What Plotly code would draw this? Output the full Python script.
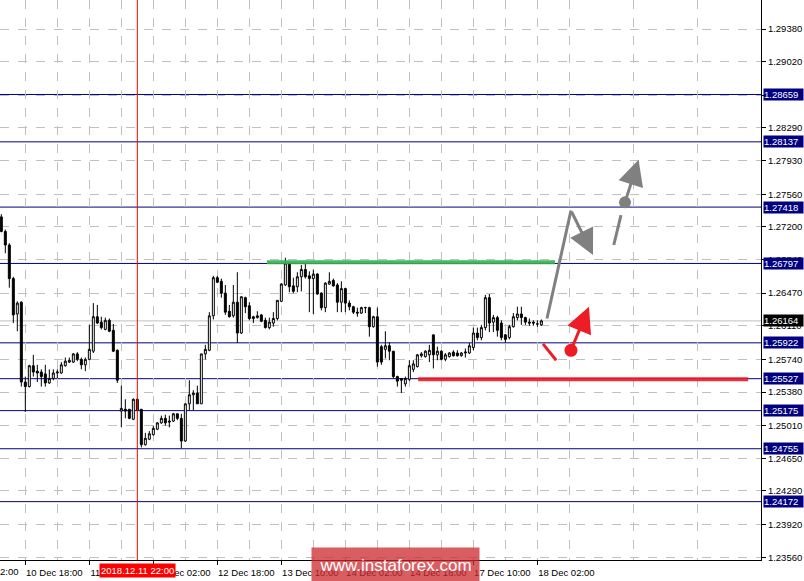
import plotly.graph_objects as go

# H1 candles, index 0 = 10 Dec 12:00
opens = [1.2731, 1.2715, 1.2700, 1.2663, 1.2624, 1.2637, 1.2549, 1.2544, 1.2567, 1.2561,
         1.2560, 1.2558, 1.2548, 1.2553, 1.2559, 1.2559, 1.2567, 1.2571, 1.2571, 1.2580,
         1.2574, 1.2568, 1.2574, 1.2583, 1.2621, 1.2615, 1.2607, 1.2617, 1.2606, 1.2584,
         1.2517, 1.2519, 1.2519, 1.2508, 1.2530, 1.2519, 1.2480, 1.2486, 1.2491, 1.2497,
         1.2504, 1.2509, 1.2506, 1.2506, 1.2514, 1.2509, 1.2484, 1.2525, 1.2535, 1.2537,
         1.2525, 1.2580, 1.2584, 1.2622, 1.2664, 1.2660, 1.2647, 1.2627, 1.2622, 1.2637,
         1.2603, 1.2642, 1.2633, 1.2619, 1.2620, 1.2623, 1.2617, 1.2609, 1.2614, 1.2619,
         1.2638, 1.2656, 1.2680, 1.2655, 1.2654, 1.2665, 1.2673, 1.2666, 1.2663, 1.2668,
         1.2647, 1.2631, 1.2657, 1.2661, 1.2656, 1.2637, 1.2652, 1.2636, 1.2632, 1.2626,
         1.2625, 1.2631, 1.2631, 1.2610, 1.2621, 1.2588, 1.2585, 1.2589, 1.2583, 1.2555,
         1.2553, 1.2547, 1.2552, 1.2563, 1.2566, 1.2578, 1.2577, 1.2579, 1.2601, 1.2579,
         1.2583, 1.2574, 1.2577, 1.2582, 1.2581, 1.2578, 1.2581, 1.2581, 1.2587, 1.2603,
         1.2598, 1.2609, 1.2642, 1.2615, 1.2620, 1.2614, 1.2601, 1.2598, 1.2610, 1.2620,
         1.2624, 1.2620, 1.2615, 1.2615, 1.2613, 1.2612]
highs = [1.2734, 1.2717, 1.2702, 1.2665, 1.2638, 1.2638, 1.2555, 1.2568, 1.2579, 1.2568,
         1.2563, 1.2568, 1.2563, 1.2563, 1.2563, 1.2571, 1.2576, 1.2576, 1.2581, 1.2582,
         1.2576, 1.2576, 1.2612, 1.2636, 1.2634, 1.2621, 1.2620, 1.2619, 1.2613, 1.2585,
         1.2545, 1.2530, 1.2519, 1.2531, 1.2531, 1.2519, 1.2493, 1.2495, 1.2501, 1.2505,
         1.2512, 1.2513, 1.2512, 1.2515, 1.2514, 1.2514, 1.2525, 1.2551, 1.2540, 1.2545,
         1.2580, 1.2590, 1.2626, 1.2666, 1.2666, 1.2663, 1.2656, 1.2634, 1.2656, 1.2670,
         1.2643, 1.2643, 1.2637, 1.2622, 1.2627, 1.2624, 1.2620, 1.2620, 1.2626, 1.2639,
         1.2658, 1.2686, 1.2681, 1.2664, 1.2670, 1.2678, 1.2680, 1.2671, 1.2673, 1.2669,
         1.2648, 1.2659, 1.2670, 1.2663, 1.2658, 1.2660, 1.2653, 1.2639, 1.2633, 1.2631,
         1.2632, 1.2632, 1.2632, 1.2622, 1.2631, 1.2590, 1.2605, 1.2593, 1.2583, 1.2556,
         1.2553, 1.2555, 1.2573, 1.2573, 1.2580, 1.2582, 1.2584, 1.2590, 1.2601, 1.2588,
         1.2584, 1.2581, 1.2582, 1.2584, 1.2584, 1.2582, 1.2586, 1.2592, 1.2609, 1.2609,
         1.2612, 1.2645, 1.2646, 1.2623, 1.2622, 1.2617, 1.2602, 1.2612, 1.2625, 1.2632,
         1.2632, 1.2621, 1.2619, 1.2617, 1.2617, 1.2618]
lows = [1.2714, 1.2691, 1.2653, 1.2614, 1.2605, 1.2544, 1.2516, 1.2543, 1.2555, 1.2549,
        1.2544, 1.2544, 1.2547, 1.2551, 1.2553, 1.2558, 1.2566, 1.2570, 1.2570, 1.2572,
        1.2563, 1.2561, 1.2573, 1.2581, 1.2613, 1.2607, 1.2606, 1.2604, 1.2582, 1.2548,
        1.2499, 1.2509, 1.2508, 1.2507, 1.2517, 1.2477, 1.2479, 1.2485, 1.2490, 1.2496,
        1.2503, 1.2501, 1.2499, 1.2505, 1.2507, 1.2476, 1.2483, 1.2518, 1.2518, 1.2525,
        1.2525, 1.2574, 1.2583, 1.2618, 1.2658, 1.2642, 1.2623, 1.2620, 1.2620, 1.2592,
        1.2602, 1.2625, 1.2617, 1.2614, 1.2619, 1.2615, 1.2608, 1.2607, 1.2610, 1.2617,
        1.2637, 1.2655, 1.2648, 1.2647, 1.2648, 1.2649, 1.2663, 1.2626, 1.2624, 1.2645,
        1.2628, 1.2626, 1.2656, 1.2654, 1.2626, 1.2626, 1.2626, 1.2628, 1.2624, 1.2621,
        1.2624, 1.2625, 1.2599, 1.2609, 1.2566, 1.2568, 1.2575, 1.2573, 1.2553, 1.2544,
        1.2537, 1.2544, 1.2550, 1.2560, 1.2565, 1.2576, 1.2576, 1.2571, 1.2564, 1.2573,
        1.2573, 1.2572, 1.2576, 1.2577, 1.2577, 1.2577, 1.2576, 1.2580, 1.2584, 1.2595,
        1.2595, 1.2606, 1.2604, 1.2604, 1.2599, 1.2595, 1.2592, 1.2596, 1.2609, 1.2617,
        1.2612, 1.2612, 1.2611, 1.2611, 1.2610, 1.2611]
closes = [1.2715, 1.2700, 1.2663, 1.2623, 1.2636, 1.2549, 1.2544, 1.2567, 1.2560, 1.2559,
          1.2555, 1.2548, 1.2553, 1.2559, 1.2560, 1.2568, 1.2572, 1.2573, 1.2580, 1.2574,
          1.2568, 1.2574, 1.2585, 1.2621, 1.2614, 1.2609, 1.2617, 1.2605, 1.2583, 1.2551,
          1.2520, 1.2517, 1.2509, 1.2530, 1.2518, 1.2480, 1.2487, 1.2492, 1.2498, 1.2504,
          1.2509, 1.2504, 1.2505, 1.2514, 1.2509, 1.2484, 1.2525, 1.2535, 1.2537, 1.2525,
          1.2580, 1.2585, 1.2622, 1.2664, 1.2659, 1.2647, 1.2626, 1.2621, 1.2637, 1.2603,
          1.2643, 1.2632, 1.2619, 1.2621, 1.2622, 1.2616, 1.2609, 1.2615, 1.2619, 1.2639,
          1.2657, 1.2680, 1.2654, 1.2649, 1.2665, 1.2673, 1.2665, 1.2663, 1.2668, 1.2646,
          1.2631, 1.2658, 1.2660, 1.2655, 1.2637, 1.2652, 1.2636, 1.2632, 1.2626, 1.2625,
          1.2631, 1.2631, 1.2610, 1.2621, 1.2571, 1.2571, 1.2589, 1.2583, 1.2555, 1.2550,
          1.2551, 1.2553, 1.2567, 1.2569, 1.2579, 1.2580, 1.2583, 1.2584, 1.2579, 1.2583,
          1.2574, 1.2579, 1.2581, 1.2578, 1.2578, 1.2581, 1.2582, 1.2589, 1.2603, 1.2598,
          1.2609, 1.2642, 1.2614, 1.2620, 1.2606, 1.2598, 1.2596, 1.2610, 1.2621, 1.2624,
          1.2620, 1.2615, 1.2614, 1.2614, 1.2613, 1.26164]

time_labels = ["10 Dec 18:00", "11 Dec 10:00", "12 Dec 02:00", "12 Dec 18:00", "13 Dec 10:00",
               "14 Dec 02:00", "14 Dec 18:00", "17 Dec 10:00", "18 Dec 02:00"]
first_label_bar = 6
bars_per_label = 16

price_ticks = [1.29380, 1.29020, 1.28650, 1.28290, 1.27930, 1.27560, 1.27200, 1.26840, 1.26470,
               1.26110, 1.25740, 1.25380, 1.25010, 1.24650, 1.24290, 1.23920, 1.23560]
levels = [1.28659, 1.28137, 1.27418, 1.26797, 1.25922, 1.25527, 1.25175, 1.24755, 1.24172]
current_price = 1.26164
marker_bar = 34
marker_text = "2018.12.11 22:00"

# drawn objects (bar index, price)
resistance = ([66.4, 138.4], [1.2681, 1.2681])
support = ([104.2, 186.7], [1.2552, 1.2552])
red_dash = ([135.4, 138.7], [1.2591, 1.2573])
red_dot = (142.4, 1.2584)
red_tip = (146.9, 1.2632)
grey_path = ([136.4, 142.4], [1.2619, 1.2738])
grey_tip = (147.9, 1.2689)
grey_dash = ([153.1, 154.9], [1.2700, 1.2733])
grey_dot = (155.9, 1.2747)
grey_tip2 = (159.3, 1.2794)

FONT = "Liberation Sans, Arial, sans-serif"
NAVY = "#000080"
RED = "#ee1c25"
GREY = "#808080"

bars = list(range(len(opens)))
fig = go.Figure()
fig.add_trace(go.Candlestick(
    x=bars, open=opens, high=highs, low=lows, close=closes,
    increasing=dict(line=dict(color="black", width=1), fillcolor="white"),
    decreasing=dict(line=dict(color="black", width=1), fillcolor="black"),
    whiskerwidth=0, hoverinfo="skip", showlegend=False,
))

# drawn lines
fig.add_trace(go.Scatter(x=resistance[0], y=resistance[1], mode="lines",
                         line=dict(color="#36b04a", width=4), opacity=0.9, showlegend=False))
fig.add_trace(go.Scatter(x=support[0], y=support[1], mode="lines",
                         line=dict(color=RED, width=4), opacity=0.9, showlegend=False))
fig.add_trace(go.Scatter(x=red_dash[0], y=red_dash[1], mode="lines",
                         line=dict(color=RED, width=3), showlegend=False))
fig.add_trace(go.Scatter(x=grey_path[0], y=grey_path[1], mode="lines",
                         line=dict(color=GREY, width=3), showlegend=False))
fig.add_trace(go.Scatter(x=grey_dash[0], y=grey_dash[1], mode="lines",
                         line=dict(color=GREY, width=3), showlegend=False))
fig.add_trace(go.Scatter(x=[red_dot[0]], y=[red_dot[1]], mode="markers",
                         marker=dict(color=RED, size=13), showlegend=False))
fig.add_trace(go.Scatter(x=[grey_dot[0]], y=[grey_dot[1]], mode="markers",
                         marker=dict(color=GREY, size=12), showlegend=False))

for tail, tip, col in [(red_dot, red_tip, RED), ((grey_path[0][1], grey_path[1][1]), grey_tip, GREY),
                       (grey_dot, grey_tip2, GREY)]:
    fig.add_annotation(x=tip[0], y=tip[1], ax=tail[0], ay=tail[1], xref="x", yref="y",
                       axref="x", ayref="y", text="", showarrow=True, arrowhead=2,
                       arrowsize=1.7, arrowwidth=3, arrowcolor=col, standoff=0)

# horizontal levels
for lv in levels:
    fig.add_shape(type="line", xref="paper", x0=0, x1=1, yref="y", y0=lv, y1=lv,
                  line=dict(color=NAVY, width=1), layer="below")
    fig.add_annotation(xref="paper", x=1, yref="y", y=lv, text=f"{lv:.5f}", showarrow=False,
                       xanchor="left", yanchor="middle", xshift=2, width=39, height=11, align="left",
                       bgcolor=NAVY, borderpad=0, font=dict(family=FONT, size=9.5, color="white"))

fig.add_shape(type="line", xref="paper", x0=0, x1=1, yref="y", y0=current_price, y1=current_price,
              line=dict(color="#c0c0c0", width=1), layer="below")
fig.add_annotation(xref="paper", x=1, yref="y", y=current_price, text=f"{current_price:.5f}",
                   showarrow=False, xanchor="left", yanchor="middle", xshift=2, width=39, height=11,
                   align="left", bgcolor="black", borderpad=0,
                   font=dict(family=FONT, size=9.5, color="white"))

# time marker
fig.add_shape(type="line", xref="x", x0=marker_bar, x1=marker_bar, yref="paper", y0=0, y1=1,
              line=dict(color="#ff0000", width=1), layer="above")
fig.add_annotation(xref="x", x=marker_bar, yref="paper", y=0, yanchor="top", yshift=-3,
                   text=marker_text, showarrow=False, bgcolor="#ff0000", borderpad=1,
                   font=dict(family=FONT, size=9.5, color="white"))
fig.add_annotation(xref="paper", x=0, yref="paper", y=0, yanchor="top", xanchor="left", yshift=-4,
                   xshift=-2, text="2:00", showarrow=False, font=dict(family=FONT, size=9.5, color="black"))

# watermark
fig.add_annotation(xref="paper", x=395.5 / 761, yref="paper", y=-5 / 560, xanchor="center",
                   yanchor="middle", text="www.instaforex.com", showarrow=False, width=165, height=32,
                   bgcolor="rgba(204,40,46,0.75)", font=dict(family=FONT, size=17, color="white"))

tick_bars = [first_label_bar + bars_per_label * i for i in range(len(time_labels))]

fig.update_layout(
    width=804, height=581,
    margin=dict(l=0, r=43, t=0, b=21),
    paper_bgcolor="white", plot_bgcolor="white",
    font=dict(family=FONT, size=9.5, color="black"),
    showlegend=False,
    xaxis=dict(
        range=[-0.33, 189.9], rangeslider=dict(visible=False),
        tickmode="array", tickvals=tick_bars, ticktext=time_labels,
        ticks="outside", ticklen=4, tickcolor="black", ticklabelshift=29,
        showgrid=True, gridcolor="#c0c0c0", griddash="dash", gridwidth=1,
        minor=dict(tick0=first_label_bar + bars_per_label / 2, dtick=bars_per_label,
                   showgrid=True, gridcolor="#c0c0c0", griddash="dash", ticks=""),
        showline=True, linecolor="black", linewidth=1, zeroline=False, fixedrange=True,
    ),
    yaxis=dict(
        range=[1.23529, 1.29700], side="right",
        tickmode="array", tickvals=price_ticks, ticktext=[f"{v:.5f}" for v in price_ticks],
        ticks="outside", ticklen=4, tickcolor="black",
        showgrid=True, gridcolor="#c0c0c0", griddash="dash", gridwidth=1,
        showline=True, linecolor="black", linewidth=1, zeroline=False,
    ),
)

fig.write_html("out.html", config={"displayModeBar": False},
               post_script="document.body.style.margin='0px';"
                           "document.body.style.overflow='hidden';")
